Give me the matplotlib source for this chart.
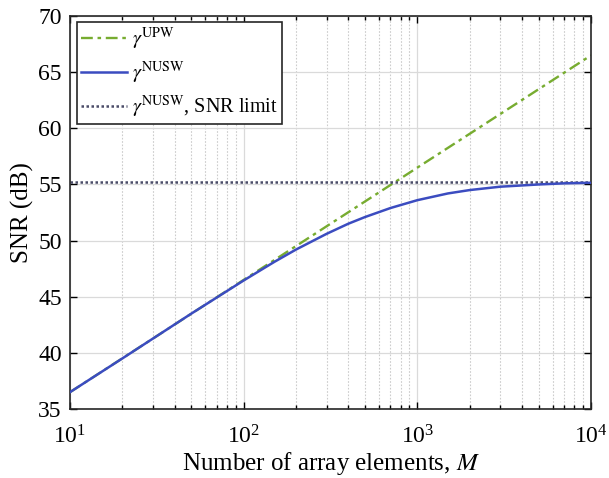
import numpy as np
import matplotlib
matplotlib.use('Agg')
import matplotlib.pyplot as plt

# values
m_upw = [10, 10000]
snr_upw = [36.5, 66.5]

m_nusw = [10, 20, 50, 100, 150, 200, 300, 400, 500, 700, 1000, 1500, 2000, 3000, 5000, 7000, 10000]
snr_nusw = [36.5, 39.5, 43.5, 46.45, 48.1, 49.2, 50.6, 51.5, 52.1, 52.9, 53.6, 54.2, 54.5, 54.8, 55.0, 55.1, 55.15]

snr_limit = 55.25

plt.rcParams['font.family'] = ['Liberation Serif', 'DejaVu Serif']
plt.rcParams['mathtext.fontset'] = 'stix'

fig = plt.figure(figsize=(6.09, 4.78), dpi=100)
ax = fig.add_axes([0.115, 0.1444, 0.8555, 0.822])

ax.plot(m_upw, snr_upw, color='#77AC30', linestyle=(0, (5, 2, 1.5, 2)), linewidth=1.7, label=r'$\gamma^{\rm UPW}$')
ax.plot(m_nusw, snr_nusw, color='#3b4cc0', linestyle='-', linewidth=1.8, label=r'$\gamma^{\rm NUSW}$', zorder=3)
ax.axhline(snr_limit, color='#4a4c68', linestyle=(0, (1, 1)), linewidth=1.8, label=r'$\gamma^{\rm NUSW}$, SNR limit')

ax.set_xscale('log')
ax.set_xlim(10, 1e4)
ax.set_ylim(35, 70)
ax.set_yticks(np.arange(35, 71, 5))

ax.grid(True, which='major', color='#dadada', linewidth=0.9)
ax.grid(True, which='minor', axis='x', color='#cccccc', linestyle=(0, (1.5, 1.5)), linewidth=0.8)
ax.set_axisbelow(True)

ax.tick_params(which='both', direction='in', top=True, right=True, labelsize=17, width=1)
ax.tick_params(which='major', length=5)
ax.tick_params(which='minor', length=3)
ax.tick_params(axis='x', which='major', pad=12)
ax.tick_params(axis='y', which='major', pad=6)
for s in ax.spines.values():
    s.set_linewidth(1.2)
    s.set_color('#262626')

ax.set_xlabel(r'Number of array elements, $M$', fontsize=18, labelpad=0.5)
ax.set_ylabel('SNR (dB)', fontsize=18, labelpad=3)

leg = ax.legend(loc='upper left', bbox_to_anchor=(0.013, 0.985), fontsize=14.5, frameon=True, fancybox=False,
                edgecolor='#262626', framealpha=1, handlelength=2.3,
                borderaxespad=0.0, labelspacing=0.4, handletextpad=0.25, borderpad=0.2)
leg.get_frame().set_linewidth(1.2)

fig.savefig('out.png', dpi=100)
